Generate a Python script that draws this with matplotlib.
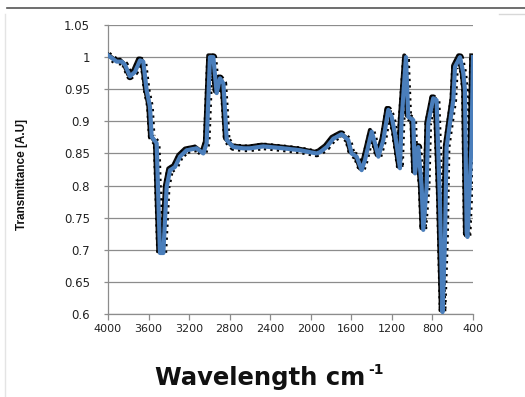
import matplotlib.pyplot as plt
import matplotlib.patheffects as pe
from matplotlib.lines import Line2D

# FTIR spectrum: wavenumber (cm-1) vs transmittance
wavenumber = [4000, 3914, 3865, 3832, 3783, 3734, 3684, 3652, 3619, 3586,
              3569, 3520, 3487, 3454, 3421, 3388, 3339, 3290, 3224, 3126,
              3060, 3027, 2994, 2961, 2928, 2895, 2862, 2846, 2829, 2764,
              2665, 2600, 2468, 2271, 2106, 1942, 1909, 1843, 1778, 1696,
              1630, 1597, 1547, 1498, 1465, 1399, 1366, 1333, 1284, 1235,
              1202, 1169, 1120, 1104, 1061, 1038, 989, 972, 939, 906,
              890, 857, 841, 792, 759, 726, 700, 676, 660, 627,
              594, 577, 528, 495, 479, 462, 454, 414, 400]
transmittance = [1.003, 0.993, 0.993, 0.988, 0.970, 0.977, 0.995, 0.993, 0.949, 0.923,
                 0.876, 0.866, 0.695, 0.695, 0.798, 0.824, 0.829, 0.845, 0.855, 0.858,
                 0.850, 0.866, 1.000, 1.000, 0.944, 0.967, 0.959, 0.918, 0.871, 0.860,
                 0.858, 0.858, 0.861, 0.858, 0.855, 0.850, 0.852, 0.860, 0.873, 0.880,
                 0.871, 0.850, 0.845, 0.824, 0.840, 0.884, 0.866, 0.845, 0.871, 0.918,
                 0.907, 0.881, 0.827, 0.902, 1.000, 0.907, 0.902, 0.819, 0.860, 0.798,
                 0.731, 0.798, 0.897, 0.936, 0.933, 0.777, 0.603, 0.715, 0.860, 0.897,
                 0.933, 0.985, 1.000, 0.975, 0.949, 0.726, 0.720, 0.866, 1.000]

x_ticks = [4000, 3600, 3200, 2800, 2400, 2000, 1600, 1200, 800, 400]
y_ticks = [0.6, 0.65, 0.7, 0.75, 0.8, 0.85, 0.9, 0.95, 1, 1.05]
y_labels = ['0.6', '0.65', '0.7', '0.75', '0.8', '0.85', '0.9', '0.95', '1', '1.05']

fig = plt.figure(figsize=(5.25, 3.97), dpi=100)
ax = fig.add_axes([0.2057, 0.209, 0.6952, 0.728])

ax.yaxis.grid(True, color='#8c8c8c', linewidth=0.9)
ax.set_axisbelow(True)

# dash marks sticking out of the line, dark shadow, blue line on top
ax.plot(wavenumber, transmittance, color='black', linewidth=5.5,
        linestyle=(0, (0.3, 0.55)), zorder=2)
ax.plot(wavenumber, transmittance, color='#4a7ebb', linewidth=3,
        solid_joinstyle='round', zorder=3,
        path_effects=[pe.SimpleLineShadow(offset=(-1.2, 1.2), shadow_color='black',
                                          alpha=0.95),
                      pe.Normal()])

ax.set_xlim(4000, 400)
ax.set_ylim(0.6, 1.05)
ax.set_xticks(x_ticks)
ax.set_xticklabels([str(t) for t in x_ticks])
ax.set_yticks(y_ticks)
ax.set_yticklabels(y_labels)
ax.tick_params(axis='x', direction='out', length=4, width=0.9, color='#8c8c8c',
               labelsize=8, labelcolor='#222222', pad=3)
ax.tick_params(axis='y', direction='out', length=3, width=0.9, color='#8c8c8c',
               labelsize=8.5, labelcolor='#222222', pad=10)

for side in ['top', 'right']:
    ax.spines[side].set_visible(False)
for side in ['left', 'bottom']:
    ax.spines[side].set_color('#8c8c8c')
    ax.spines[side].set_linewidth(0.9)

fig.text(22 / 525, 1 - 175 / 397, 'Transmittance [A.U]', rotation=90,
         ha='center', va='center', fontsize=8.5, fontweight='bold',
         family=['Liberation Sans Narrow', 'Liberation Sans'], color='#111111')

# x label with a small superscript placed right after it
xlab = fig.text(155 / 525, 1 - 385 / 397, 'Wavelength cm', ha='left', va='baseline',
                fontsize=17.5, fontweight='bold', family='DejaVu Sans', color='#111111')
fig.canvas.draw()
bb = xlab.get_window_extent(fig.canvas.get_renderer())
fig.text((bb.x1 + 3) / 525, 1 - 374 / 397, '-1', ha='left', va='baseline',
         fontsize=10, fontweight='bold', family='DejaVu Sans', color='#111111')

# page border lines around the chart
fig.add_artist(Line2D([0.013, 1.0], [0.980, 0.980], color='#555555', linewidth=1.2))
fig.add_artist(Line2D([0.010, 0.010], [0.0, 0.965], color='#e4e4e4', linewidth=1))
fig.add_artist(Line2D([0.95, 1.0], [0.965, 0.965], color='#d8d8d8', linewidth=1))

fig.savefig('out.png', dpi=100)
